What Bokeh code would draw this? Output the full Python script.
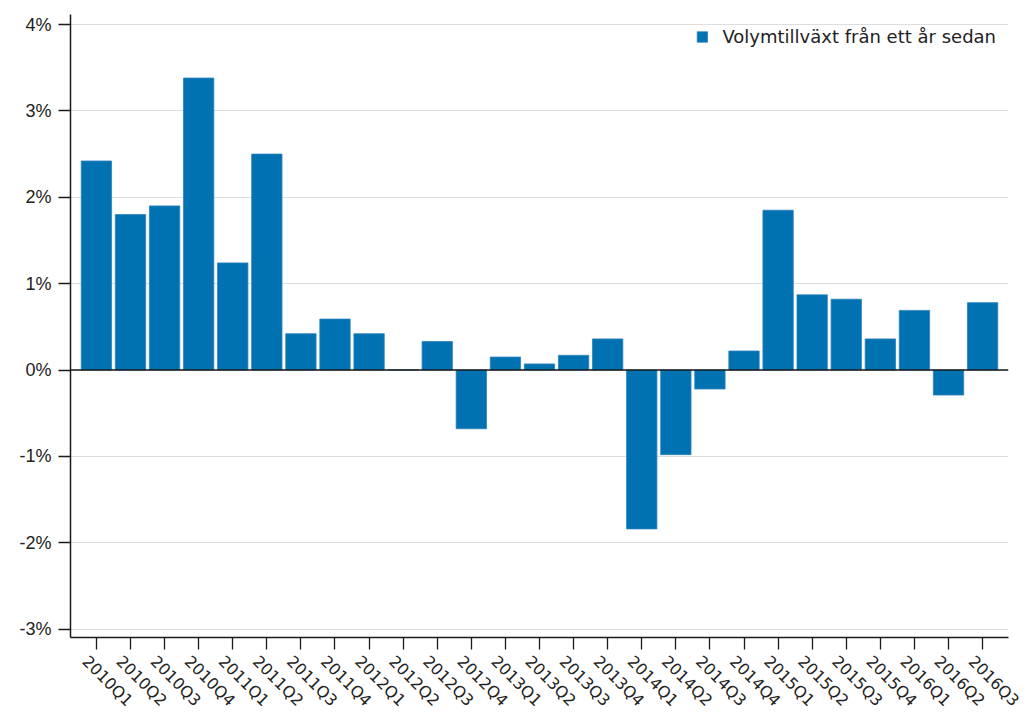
import math
from bokeh.plotting import figure
from bokeh.models import (ColumnDataSource, FixedTicker, Range1d, Span, LinearAxis,
                          PrintfTickFormatter, Legend, LegendItem)
from bokeh.embed import file_html
from bokeh.resources import INLINE

quarters = ["2010Q1", "2010Q2", "2010Q3", "2010Q4",
            "2011Q1", "2011Q2", "2011Q3", "2011Q4",
            "2012Q1", "2012Q2", "2012Q3", "2012Q4",
            "2013Q1", "2013Q2", "2013Q3", "2013Q4",
            "2014Q1", "2014Q2", "2014Q3", "2014Q4",
            "2015Q1", "2015Q2", "2015Q3", "2015Q4",
            "2016Q1", "2016Q2", "2016Q3"]
values = [2.42, 1.80, 1.90, 3.38,
          1.24, 2.50, 0.42, 0.59,
          0.42, 0.00, 0.33, -0.68,
          0.15, 0.07, 0.17, 0.36,
          -1.84, -0.98, -0.22, 0.22,
          1.85, 0.87, 0.82, 0.36,
          0.69, -0.29, 0.78]
y_ticks = [-3, -2, -1, 0, 1, 2, 3, 4]
series_name = "Volymtillväxt från ett år sedan"

xs = list(range(len(quarters)))
src = ColumnDataSource(dict(x=xs, top=values, q=quarters))

X0, X1 = -0.76, 26.76
p = figure(width=1029, height=724,
           x_range=Range1d(X0, X1), y_range=Range1d(-3.097, 4.116),
           output_backend="svg", toolbar_location=None,
           min_border_left=70, min_border_right=21,
           min_border_top=14, min_border_bottom=87)
p.outline_line_color = None
p.background_fill_color = "white"

bar_color = "#0072b2"
bars = p.vbar(x="x", top="top", bottom=0, width=0.89, source=src,
              fill_color=bar_color, line_color="#2a80bb", line_width=0.8)

legend = Legend(items=[LegendItem(label=series_name, renderers=[bars])],
                location="top_right")
legend.border_line_color = None
legend.background_fill_alpha = 0
legend.label_text_font = "DejaVu Sans"
legend.label_text_font_size = "18px"
legend.label_text_color = "#222222"
legend.glyph_width = 13
legend.glyph_height = 13
legend.label_standoff = 14
legend.margin = 12
legend.padding = 6
p.add_layout(legend)

# grid
p.xgrid.grid_line_color = None
p.ygrid.ticker = FixedTicker(ticks=y_ticks)
p.ygrid.grid_line_color = "#dddddd"
p.ygrid.grid_line_width = 1

zero = Span(location=0, dimension="width", line_color="#1a1a1a", line_width=1.5)
p.add_layout(zero)

# y axis
p.yaxis.ticker = FixedTicker(ticks=y_ticks)
p.yaxis.formatter = PrintfTickFormatter(format="%d%%")
p.yaxis.major_label_text_font = "Liberation Sans"
p.yaxis.major_label_text_font_size = "18px"
p.yaxis.major_label_text_color = "#222222"
p.yaxis.major_tick_out = 12
p.yaxis.major_tick_in = 0
p.yaxis.minor_tick_line_color = None
p.yaxis.major_label_standoff = 7

# x axis: ticks only on primary axis
p.xaxis.ticker = FixedTicker(ticks=xs)
p.xaxis.major_label_overrides = {i: "" for i in xs}
p.xaxis.major_label_text_font_size = "1px"
p.xaxis.major_label_standoff = 0
p.xaxis.major_tick_out = 12
p.xaxis.major_tick_in = 0
p.xaxis.minor_tick_line_color = None

for ax in (p.xaxis, p.yaxis):
    ax.axis_line_color = "#1a1a1a"
    ax.axis_line_width = 1.5
    ax.major_tick_line_color = "#1a1a1a"
    ax.major_tick_line_width = 1.3

# label axis, shifted slightly left so labels straddle their ticks
shift = 0.33
p.extra_x_ranges = {"lab": Range1d(X0 + shift, X1 + shift)}
lab_axis = LinearAxis(x_range_name="lab", ticker=FixedTicker(ticks=xs))
lab_axis.major_label_overrides = {i: q for i, q in zip(xs, quarters)}
lab_axis.major_label_orientation = -math.pi / 4
lab_axis.major_label_text_font = "DejaVu Sans"
lab_axis.major_label_text_font_size = "16px"
lab_axis.major_label_text_color = "#222222"
lab_axis.major_label_standoff = 9
lab_axis.axis_line_color = None
lab_axis.major_tick_line_color = None
lab_axis.minor_tick_line_color = None
lab_axis.major_tick_out = 0
lab_axis.major_tick_in = 0
p.add_layout(lab_axis, "below")

open("out.html", "w").write(file_html(p, INLINE))
